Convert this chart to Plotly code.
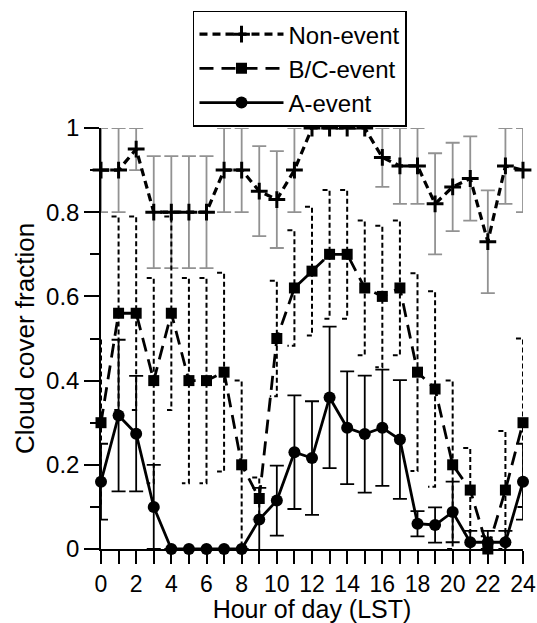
import plotly.graph_objects as go

# Hour of day (LST)
hours = list(range(25))

# Mean cloud cover fraction and error half-widths for each event class
non_event = [0.90, 0.90, 0.95, 0.80, 0.80, 0.80, 0.80, 0.90, 0.90, 0.85, 0.83, 0.90, 1.00,
             1.00, 1.00, 1.00, 0.93, 0.91, 0.91, 0.82, 0.86, 0.88, 0.73, 0.91, 0.90]
non_event_err = [0.10, 0.10, 0.05, 0.133, 0.133, 0.133, 0.133, 0.10, 0.10, 0.107, 0.115, 0.10, 0.0,
                 0.0, 0.0, 0.0, 0.07, 0.09, 0.09, 0.12, 0.105, 0.10, 0.122, 0.09, 0.10]

bc_event = [0.30, 0.56, 0.56, 0.40, 0.56, 0.40, 0.40, 0.42, 0.20, 0.12, 0.50, 0.62, 0.66,
            0.70, 0.70, 0.62, 0.60, 0.62, 0.42, 0.38, 0.20, 0.14, 0.00, 0.14, 0.30]
bc_event_err = [0.20, 0.23, 0.23, 0.244, 0.23, 0.244, 0.244, 0.236, 0.20, 0.05, 0.137, 0.137, 0.153,
                0.153, 0.153, 0.16, 0.168, 0.16, 0.235, 0.232, 0.20, 0.10, 0.03, 0.14, 0.20]

a_event = [0.16, 0.317, 0.274, 0.10, 0.0, 0.0, 0.0, 0.0, 0.0, 0.07, 0.115, 0.23, 0.216,
           0.36, 0.288, 0.273, 0.288, 0.26, 0.06, 0.057, 0.088, 0.016, 0.016, 0.016, 0.16]
a_event_err = [0.09, 0.18, 0.137, 0.10, 0.0, 0.0, 0.0, 0.0, 0.0, 0.075, 0.083, 0.135, 0.135,
               0.168, 0.134, 0.139, 0.138, 0.141, 0.03, 0.042, 0.072, 0.027, 0.027, 0.027, 0.09]

x_tick_vals = list(range(0, 25, 2))
x_tick_text = [str(v) for v in x_tick_vals]
y_tick_vals = [0, 0.2, 0.4, 0.6, 0.8, 1.0]
y_tick_text = ["0", "0.2", "0.4", "0.6", "0.8", "1"]

FONT = "Liberation Sans, Arial, sans-serif"
CAP = 0.4  # half-cap length (hours) of the B/C dashed error bars, drawn to the left


def bars(errs):
    # zero-width error bars are left out entirely
    return [e if e > 0 else None for e in errs]


# B/C error bars: vertical dashed line with a cap pointing left at both ends
bc_bar_x, bc_bar_y = [], []
for h, v, e in zip(hours, bc_event, bc_event_err):
    hi, lo = v + e, max(v - e, 0.0)
    bc_bar_x += [h - CAP, h, h, h - CAP, None]
    bc_bar_y += [hi, hi, lo, lo, None]

fig = go.Figure()

fig.add_trace(go.Scatter(
    x=hours, y=non_event, name="Non-event", mode="lines+markers",
    line=dict(color="black", width=3.2, dash="8px,5px"),
    marker=dict(symbol="cross-thin", size=12, color="black",
                line=dict(color="black", width=3)),
    error_y=dict(type="data", array=bars(non_event_err), visible=True,
                 color="#929292", thickness=1.8, width=7),
    cliponaxis=False,
))

fig.add_trace(go.Scatter(
    x=bc_bar_x, y=bc_bar_y, mode="lines", showlegend=False, hoverinfo="skip",
    line=dict(color="black", width=2, dash="5px,3px"),
    cliponaxis=False,
))

fig.add_trace(go.Scatter(
    x=hours, y=bc_event, name="B/C-event", mode="lines+markers",
    line=dict(color="black", width=2.8, dash="14px,8px"),
    marker=dict(symbol="square", size=11, color="black"),
    cliponaxis=False,
))

fig.add_trace(go.Scatter(
    x=hours, y=a_event, name="A-event", mode="lines+markers",
    line=dict(color="black", width=2.8),
    marker=dict(symbol="circle", size=12, color="black"),
    error_y=dict(type="data", array=bars(a_event_err), visible=True,
                 color="black", thickness=1.8, width=7),
    cliponaxis=False,
))

fig.update_layout(
    template="none",
    width=537, height=623,
    margin=dict(l=101, r=14, t=127, b=74),
    paper_bgcolor="white", plot_bgcolor="white",
    font=dict(family=FONT, size=22, color="black"),
    showlegend=True,
    legend=dict(
        x=0.218, y=1.276, xanchor="left", yanchor="top",
        bgcolor="white", bordercolor="black", borderwidth=1.5,
        font=dict(family=FONT, size=24, color="black"),
        itemwidth=84, tracegroupgap=0,
    ),
    xaxis=dict(
        range=[0, 24], tickmode="array", tickvals=x_tick_vals, ticktext=x_tick_text,
        ticks="outside", ticklen=13, tickwidth=1.5, tickcolor="black",
        minor=dict(dtick=1, tick0=0, ticks="outside", ticklen=13, tickwidth=1.5,
                   tickcolor="black", showgrid=False),
        showline=True, linecolor="black", linewidth=1.5,
        showgrid=False, zeroline=False, layer="below traces", automargin=False,
        title=dict(text="Hour of day (LST)", font=dict(size=25), standoff=8),
        tickfont=dict(size=23), ticklabelstandoff=1,
    ),
    yaxis=dict(
        range=[0, 1], tickmode="array", tickvals=y_tick_vals, ticktext=y_tick_text,
        ticks="outside", ticklen=15, tickwidth=1.5, tickcolor="black",
        minor=dict(dtick=0.1, tick0=0, ticks="outside", ticklen=9, tickwidth=1.5,
                   tickcolor="black", showgrid=False),
        showline=True, linecolor="black", linewidth=1.5,
        showgrid=False, zeroline=False, layer="below traces", automargin=False,
        title=dict(text="Cloud cover fraction", font=dict(size=26), standoff=4),
        tickfont=dict(size=24),
    ),
)

fig.write_html("out.html")
